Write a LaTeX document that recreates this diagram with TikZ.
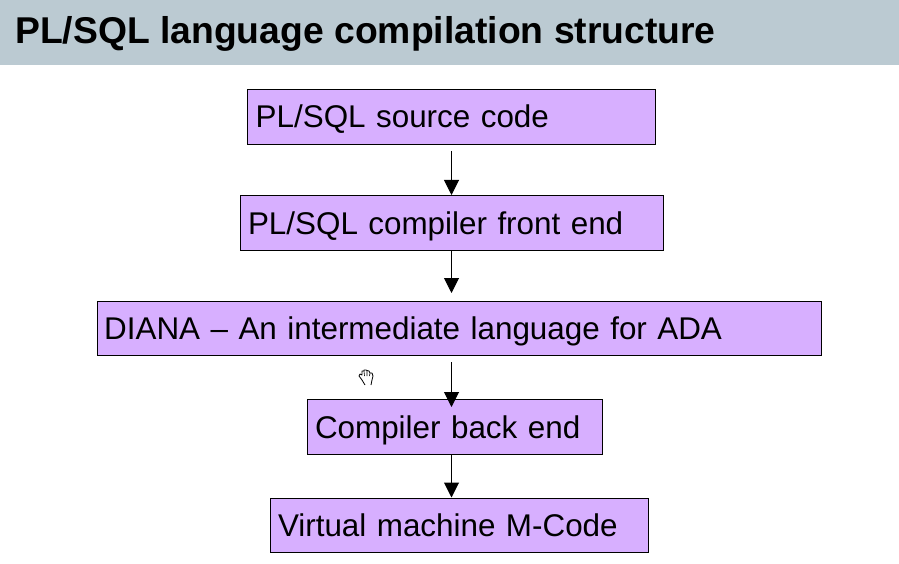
\documentclass[tikz,border=0pt]{standalone}
\usepackage{fontspec}
\setmainfont{Liberation Sans}
\usetikzlibrary{arrows.meta}
\definecolor{bannerblue}{HTML}{BBCAD2}
\definecolor{stagepurple}{HTML}{D7AFFF}
\tikzset{
    stagebox/.style={draw=black, fill=stagepurple, line width=1pt, inner xsep=8pt, inner ysep=0pt,
        minimum height=55pt, align=left, font=\fontsize{31.4}{31.4}\selectfont, text height=25pt, text depth=3pt},
    flow/.style={line width=1pt, -{Triangle[width=15pt,length=15pt]}}
}
\begin{document}
\begin{tikzpicture}[x=1pt, y=-1pt]
        \useasboundingbox (0, 0) rectangle (899, 564);

        % Title banner
        \fill[bannerblue] (0, 0) rectangle (899, 65);
        \node[anchor=west, inner sep=0pt, font=\fontsize{37.3}{37.3}\selectfont\bfseries] (title) at (15, 33.5) {PL/SQL language compilation structure};

        % Compilation stages
        \node[stagebox, text width=392pt] (source) at (451, 117) {\hspace{0.7pt}PL/SQL source code};
        \node[stagebox, text width=407pt] (front) at (451.5, 223) {PL/SQL compiler front end};
        \node[stagebox, text width=708pt, minimum height=54pt] (diana) at (459, 328.5) {\hspace{-0.8pt}DIANA -- An intermediate language for ADA};
        \node[stagebox, text width=279pt] (back) at (454.5, 427) {Compiler back end};
        \node[stagebox, text width=362pt, minimum height=54pt] (mcode) at (459, 525) {Virtual machine M-Code};

        % All arrows run down one vertical line
        \coordinate (spine) at (451.5, 0);
        \draw[flow, shorten <=6pt] (source.south -| spine) -- (front.north -| spine);
        \draw[flow, shorten >=8pt] (front.south -| spine) -- (diana.north -| spine);
        \draw[flow, shorten <=6pt, shorten >=-8pt] (diana.south -| spine) -- (back.north -| spine);
        \draw[flow] (back.south -| spine) -- (mcode.north -| spine);

        % Hand pointer
        \draw[line width=0.8pt, fill=white, line join=round] (362, 380) -- (359, 376) -- (360, 374) -- (362, 375) -- (362, 371) -- (364, 371) -- (364, 370) -- (366, 370) -- (367, 370.5) -- (369, 371) -- (370, 373) -- (372, 373) -- (373, 376) -- (372, 380) -- (371, 385);
        \draw[line width=0.8pt] (362, 380) -- (365, 385);
        \draw[line width=0.6pt] (364, 371) -- (364.5, 376) (367, 370.5) -- (367, 376) (370, 373) -- (369.5, 376);
\end{tikzpicture}
\end{document}
